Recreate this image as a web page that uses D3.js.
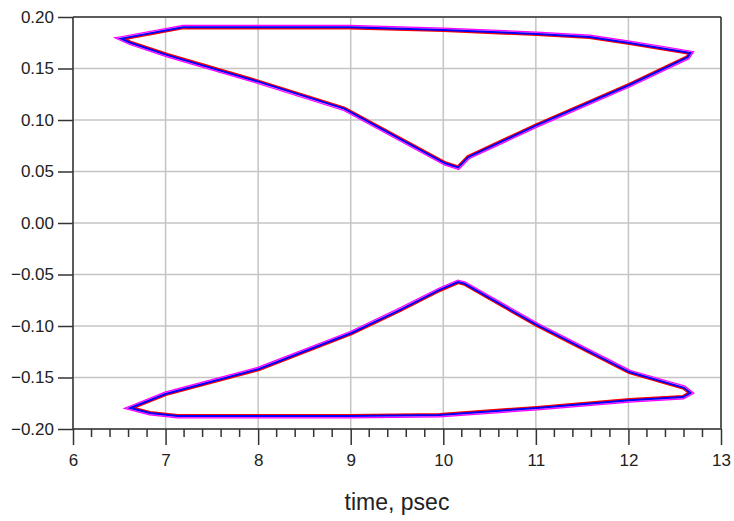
<!DOCTYPE html>
<html><head><meta charset="utf-8">
<script src="https://cdn.jsdelivr.net/npm/d3@7"></script>
<style>html,body{margin:0;padding:0;background:#fff;}svg{display:block;}</style>
</head><body>
<svg id="chart" width="734" height="521"></svg>
<script>
// ---- data (time in psec, amplitude) ----
const upperEyeX = [6.52, 7.19, 8.99, 10.00, 11.01, 11.58, 12.01, 12.34, 12.67, 12.64, 12.01, 11.01, 10.27, 10.16, 10.02, 8.93, 8.01, 7.02, 6.62];
const upperEyeY = [0.179, 0.190, 0.190, 0.1874, 0.1835, 0.1806, 0.1748, 0.170, 0.165, 0.161, 0.134, 0.095, 0.064, 0.054, 0.058, 0.111, 0.137, 0.163, 0.175];
const lowerEyeX = [6.62, 7.00, 8.01, 9.01, 9.53, 9.96, 10.16, 10.23, 11.01, 12.01, 12.60, 12.67, 12.59, 12.01, 11.01, 9.96, 8.99, 7.13, 6.83];
const lowerEyeY = [-0.1796, -0.166, -0.1417, -0.1068, -0.0845, -0.065, -0.0573, -0.059, -0.099, -0.1447, -0.160, -0.165, -0.169, -0.172, -0.1796, -0.1864, -0.1874, -0.1874, -0.1845];
const xTicks = [6, 7, 8, 9, 10, 11, 12, 13];
const yTicks = [0.20, 0.15, 0.10, 0.05, 0.00, -0.05, -0.10, -0.15, -0.20];
const xLabel = "time, psec";
const traceColors = ["#ff0000", "#0000ff", "#ff00ff"];

const svg = d3.select("#chart");
const L = 73, R = 721, T = 17, B = 429;
const x = d3.scaleLinear().domain([6, 13]).range([L, R]);
const y = d3.scaleLinear().domain([-0.2, 0.2]).range([B, T]);

// grid
const grid = svg.append("g");
grid.selectAll("line.vx").data(xTicks).join("line")
  .attr("x1", d => x(d)).attr("x2", d => x(d)).attr("y1", T).attr("y2", B)
  .attr("stroke", "#c4c4c4").attr("stroke-width", 1.5);
grid.selectAll("line.hy").data(yTicks).join("line")
  .attr("y1", d => y(d)).attr("y2", d => y(d)).attr("x1", L).attr("x2", R)
  .attr("stroke", "#c4c4c4").attr("stroke-width", 1.5);

// traces
const line = d3.line().x(d => x(d[0])).y(d => y(d[1])).curve(d3.curveLinearClosed);
const polys = [
  d3.zip(upperEyeX, upperEyeY),
  d3.zip(lowerEyeX, lowerEyeY)
];
const defs = svg.append("defs");
polys.forEach((p, i) => {
  const d = line(p);
  defs.append("clipPath").attr("id", "in" + i).append("path").attr("d", d);
  const m = defs.append("mask").attr("id", "out" + i);
  m.append("rect").attr("x", 0).attr("y", 0).attr("width", 734).attr("height", 521).attr("fill", "#fff");
  m.append("path").attr("d", d).attr("fill", "#000");
});
const tg = svg.append("g");
polys.forEach((p, i) => {
  const d = line(p);
  tg.append("path").attr("d", d).attr("fill", "none").attr("stroke", traceColors[0])
    .attr("stroke-width", 4.2).attr("stroke-linejoin", "miter").attr("clip-path", `url(#in${i})`);
  tg.append("path").attr("d", d).attr("fill", "none").attr("stroke", traceColors[2])
    .attr("stroke-width", 5).attr("stroke-linejoin", "miter").attr("mask", `url(#out${i})`);
  tg.append("path").attr("d", d).attr("fill", "none").attr("stroke", "#fff")
    .attr("stroke-width", 2.6).attr("stroke-linejoin", "miter").attr("mask", `url(#out${i})`).attr("opacity", 0.6);
  tg.append("path").attr("d", d).attr("fill", "none").attr("stroke", traceColors[1])
    .attr("stroke-width", 2).attr("stroke-linejoin", "miter");
});

// frame
svg.append("line").attr("x1", L).attr("x2", R).attr("y1", T).attr("y2", T).attr("stroke", "#333").attr("stroke-width", 1.5);
svg.append("line").attr("x1", R).attr("x2", R).attr("y1", T).attr("y2", B).attr("stroke", "#333").attr("stroke-width", 1.5);

// axes
const minorX = d3.range(60, 131, 2).map(v => v / 10).filter(v => !xTicks.includes(v));
const xMinor = svg.append("g").attr("transform", `translate(0,${B})`);
xMinor.selectAll("line").data(minorX).join("line")
  .attr("x1", d => x(d)).attr("x2", d => x(d)).attr("y1", 0).attr("y2", 8)
  .attr("stroke", "#333").attr("stroke-width", 1.5);

const xAxis = svg.append("g").attr("transform", `translate(0,${B})`)
  .call(d3.axisBottom(x).tickValues(xTicks).tickFormat(d3.format("d")).tickSize(16).tickPadding(9));
const yAxis = svg.append("g").attr("transform", `translate(${L},0)`)
  .call(d3.axisLeft(y).tickValues(yTicks).tickFormat(d3.format(".2f")).tickSize(15).tickPadding(4));
[xAxis, yAxis].forEach(a => {
  a.select(".domain").attr("stroke", "#333").attr("stroke-width", 1.5);
  a.selectAll(".tick line").attr("stroke", "#333").attr("stroke-width", 1.5);
  a.selectAll(".tick text").attr("fill", "#222")
    .style("font-family", "'Liberation Sans', Arial, sans-serif").style("font-size", "17px");
});
xAxis.select(".domain").attr("d", `M${L},0H${R}`);
yAxis.select(".domain").attr("d", `M0,${T}V${B}`);

svg.append("text").attr("x", 397).attr("y", 510).attr("text-anchor", "middle")
  .style("font-family", "'Liberation Sans', Arial, sans-serif").style("font-size", "23px").attr("fill", "#222")
  .text(xLabel);
</script>
</body></html>
